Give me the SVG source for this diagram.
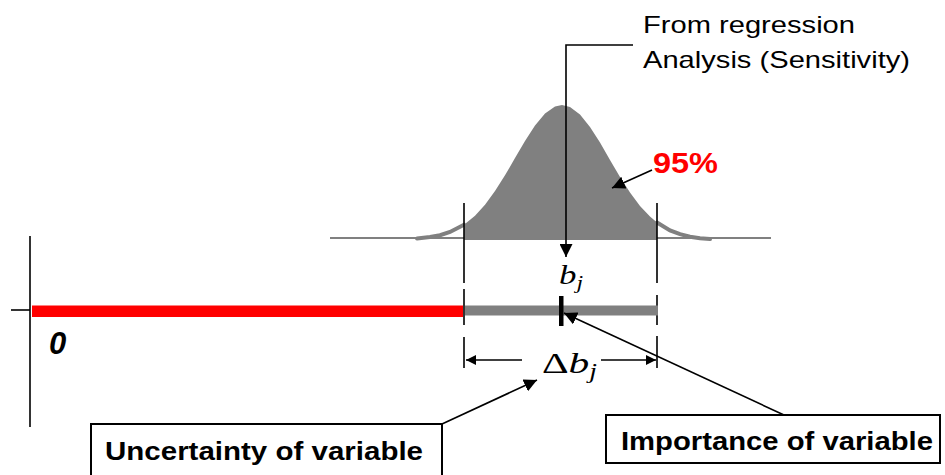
<svg xmlns="http://www.w3.org/2000/svg" width="945" height="475" viewBox="0 0 945 475">
<style>
.sans{font-family:"Liberation Sans",Arial,sans-serif;fill:#000}
.bold{font-weight:bold}
.math{font-family:"Liberation Serif","Times New Roman",serif;fill:#000}
.ln{stroke:#000;stroke-width:1.6;fill:none}
.box{fill:#fff;stroke:#000;stroke-width:2}
.gray{stroke:#808080;fill:none}
</style>
<defs>
<marker id="ah" viewBox="0 0 10 10" refX="10" refY="5" markerWidth="10" markerHeight="10" markerUnits="userSpaceOnUse" orient="auto">
<path d="M0,0 L10,5 L0,10 Z" fill="#000"/>
</marker>
<marker id="ahb" viewBox="0 0 10 10" refX="10" refY="5" markerWidth="13" markerHeight="13" markerUnits="userSpaceOnUse" orient="auto">
<path d="M0,0 L10,5 L0,10 Z" fill="#000"/>
</marker>
</defs>

<g id="axis">
<line class="ln" x1="30" y1="236" x2="30" y2="427"/>
<line class="ln" x1="11" y1="310" x2="30" y2="310"/>
<text class="sans bold" x="49" y="354" font-size="31" font-style="italic">0</text>
</g>

<g id="distribution">
<line class="gray" stroke-width="2.2" x1="330" y1="238" x2="771" y2="238"/>
<path fill="#808080" d="M464,240 L464,224.7 L475,215.7 L485,204.7 L495,191.1 L505,175.3 L515,158.1 L525,141 L535,125.6 L545,113.5 L555,106.5 L562,105 L570,106.9 L580,114.6 L590,127 L600,142.6 L610,159.9 L620,176.9 L630,192.6 L640,206 L650,216.6 L657,222.5 L657,240 Z"/>
<path class="gray" stroke-width="4" stroke-linecap="round" d="M417,238.5 L430,237 L440,235.2 L450,232 L464,224.7"/>
<path class="gray" stroke-width="4" stroke-linecap="round" d="M657,222.5 L670,230.4 L680,234.2 L690,236.7 L700,238.2 L710,239"/>
</g>

<g id="limits">
<path class="ln" d="M464,203 V283 M464,289 V325 M464,337 V368"/>
<path class="ln" d="M657,203 V283 M657,295 V325 M657,336 V368"/>
</g>

<g id="bars">
<rect x="32" y="305.5" width="431" height="11.5" fill="#ff0000"/>
<rect x="465" y="305.5" width="193" height="10" fill="#808080"/>
<rect x="559" y="296" width="4.5" height="30" fill="#000"/>
</g>

<g id="label-from">
<text class="sans" x="643" y="33" font-size="24" textLength="212" lengthAdjust="spacingAndGlyphs">From regression</text>
<text class="sans" x="643" y="68" font-size="24" textLength="267" lengthAdjust="spacingAndGlyphs">Analysis (Sensitivity)</text>
</g>

<g id="label-95">
<text class="sans bold" x="653" y="173" font-size="30" fill="#ff0000" style="fill:#ff0000" textLength="65" lengthAdjust="spacingAndGlyphs">95%</text>
</g>

<g id="label-bj">
<text class="math" x="559" y="284" font-size="28" font-style="italic" textLength="24" lengthAdjust="spacingAndGlyphs">b<tspan font-size="19" dy="5">j</tspan></text>
</g>

<g id="label-dbj">
<text class="math" x="542" y="373" font-size="30" textLength="55" lengthAdjust="spacingAndGlyphs">Δ<tspan font-style="italic">b</tspan><tspan font-style="italic" font-size="20" dy="5">j</tspan></text>
</g>

<g id="box-uncertainty">
<rect class="box" x="91" y="424" width="351" height="60"/>
<text class="sans bold" x="105" y="460" font-size="25" textLength="318" lengthAdjust="spacingAndGlyphs">Uncertainty of variable</text>
</g>

<g id="box-importance">
<rect class="box" x="606" y="415" width="334" height="48"/>
<text class="sans bold" x="621" y="450" font-size="25" textLength="312" lengthAdjust="spacingAndGlyphs">Importance of variable</text>
</g>

<g id="connectors">
<path class="ln" d="M633,45 H566 V257" marker-end="url(#ahb)"/>
<line class="ln" x1="652" y1="170" x2="612" y2="188" marker-end="url(#ahb)"/>
<line class="ln" x1="784" y1="415" x2="564" y2="313" marker-end="url(#ahb)"/>
<line class="ln" x1="442" y1="424" x2="537" y2="380" marker-end="url(#ahb)"/>
<line class="ln" x1="522" y1="360" x2="466" y2="360" marker-end="url(#ah)"/>
<line class="ln" x1="601" y1="360" x2="656" y2="360" marker-end="url(#ah)"/>
</g>
</svg>
